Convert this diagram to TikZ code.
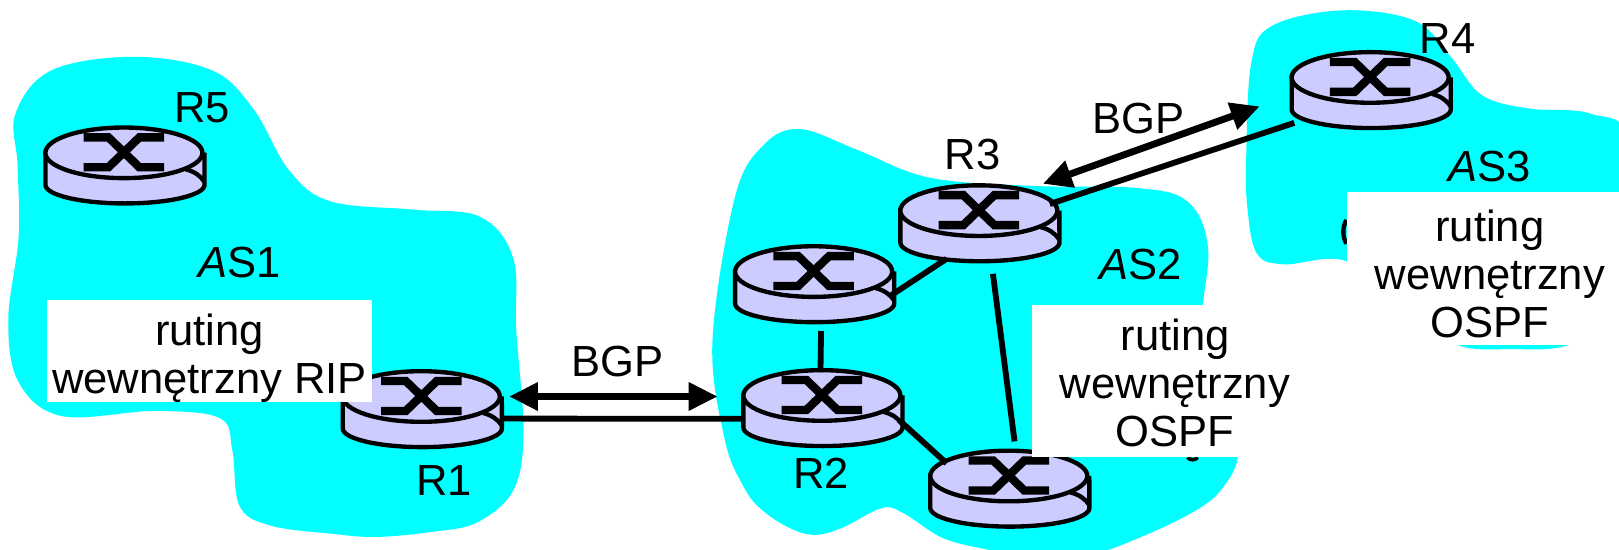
\documentclass[tikz,border=0pt]{standalone}
\usepackage{fontspec}
\setmainfont{Liberation Sans}
\usetikzlibrary{shapes.geometric,arrows.meta}
\definecolor{asblue}{HTML}{00FFFF}
\definecolor{routerblue}{HTML}{CCCCFF}
\tikzset{
  routertop/.style={ellipse,draw,fill=routerblue,line width=1.2pt,inner sep=0pt,minimum width=1.52cm,minimum height=.49cm},
  routerhull/.style={ellipse,inner sep=0pt,minimum width=1.56cm,minimum height=.74cm},
  link/.style={line width=1.6pt},
  bgplink/.style={line width=1.9pt,{Triangle[length=.28cm,width=.26cm]}-{Triangle[length=.28cm,width=.26cm]}},
  asname/.style={font=\fontsize{12}{13}\selectfont},
  notebox/.style={fill=white,inner sep=0pt},
  notetext/.style={inner sep=0pt,align=center,font=\fontsize{12}{13.2}\selectfont}
}
\begin{document}
\begin{tikzpicture}[x=0.01cm,y=-0.01cm]
\def\asone{plot[smooth cycle,tension=.6] coordinates {(15,110) (50,68) (130,55) (205,68) (245,105) (280,165) (320,195) (400,203) (465,210) (497,250) (500,320) (507,420) (497,475) (462,506) (419,515) (365,520) (322,517) (262,509) (232,490) (225,436) (213,405) (150,398) (60,403) (18,370) (8,310) (18,230) (17,160)}}
\def\astwo{plot[smooth cycle,tension=.6] coordinates {(775,125) (830,145) (900,172) (1000,180) (1100,182) (1150,195) (1170,240) (1165,320) (1192,390) (1199,440) (1186,470) (1162,492) (1110,518) (1052,538) (989,538) (955,532) (913,521) (875,497) (854,492) (816,511) (789,518) (764,511) (737,493) (720,471) (702,426) (690,330) (712,190) (740,140)}}
\def\asthree{plot[smooth cycle,tension=.6] coordinates {(1212,60) (1232,25) (1300,10) (1370,20) (1405,55) (1435,92) (1480,105) (1540,110) (1580,140) (1590,300) (1520,334) (1465,338) (1411,334) (1360,300) (1304,253) (1243,256) (1217,245) (1208,200) (1207,150)}}
\def\router#1#2{%
  \begin{scope}[shift={(#2)}]
  \filldraw[fill=routerblue,line width=1.2pt] (-76,0) -- (-76,31) arc[start angle=180,end angle=360,x radius=.77cm,y radius=.18cm] -- (78,2) -- cycle;
  \node[routertop] at (0,0) {};
  \draw[line width=1.2pt] (60,16) .. controls (68,18) and (74,22) .. (78,28);
  \draw[line width=2.3pt] (-39,-15) -- (-15,-15) -- (15,14) -- (39,14);
  \draw[line width=2.3pt] (-39,14) -- (-15,14) -- (15,-15) -- (39,-15);
  \end{scope}
  \node[routerhull] (#1) at ([yshift=-.12cm]#2) {};
}

\path[clip,use as bounding box] (0,0) rectangle (1568,532);

% autonomous systems
\fill[asblue] \asone;
\fill[asblue] \astwo;
\fill[asblue] \asthree;

\router{routerA}{120,148}
\router{routerB}{408,384}
\router{routerC}{796,383}
\router{routerD}{788,263}
\router{routerE}{948,204}
\router{routerF}{977,461}
\router{routerG}{1327,75}

% links
\draw[link] (routerB.-7) -- (routerC.188);
\draw[link] (routerE.228) -- (routerD.-8);
\draw[link,shorten <=.08cm,shorten >=-.03cm] (routerD.-79) -- (routerC.92);
\draw[link,shorten <=.12cm,shorten >=.08cm] (routerE.-72) -- (routerF.80);
\draw[link] (routerC.-9) -- (routerF.158);
\draw[link,shorten >=.18cm] (routerE.15) -- (routerG.205);

% BGP sessions
\coordinate (bgpAa) at (493,384);
\coordinate (bgpAb) at (695,384);
\coordinate (bgpBa) at (1010,178);
\coordinate (bgpBb) at (1220,103);
\draw[bgplink] (bgpAa) -- (bgpAb);
\draw[bgplink] (bgpBa) -- (bgpBb);

\draw[line width=1.2pt] (1304,213) .. controls (1300,220) and (1300,229) .. (1304,236); % router under the box
\draw[line width=1pt] (1150,443) .. controls (1153,446) and (1157,446) .. (1160,443);

\node[notebox,minimum width=3.14cm,minimum height=.99cm] (noteA) at (203,340) {};
\node[notebox,minimum width=2.76cm,minimum height=1.48cm] (noteB) at (1138,369) {};
\node[notebox,minimum width=2.76cm,minimum height=1.49cm] (noteC) at (1443,260) {};
\node[notetext] (textA) at (203,347) {ruting\\wewnętrzny RIP};
\node[notetext] (textB) at (1138,371) {ruting\\wewnętrzny\\OSPF};
\node[notetext] (textC) at (1443,265) {ruting\\wewnętrzny\\OSPF};

\node[asname] (labelA) at (196,104) {R5};
\node[asname] (labelB) at (430,465) {R1};
\node[asname] (labelC) at (795,458) {R2};
\node[asname] (labelE) at (942,150) {R3};
\node[asname] (labelG) at (1402,37) {R4};
\node[asname] (nameA) at (232,254) {{\itshape A}S1};
\node[asname] (nameB) at (1105,256) {{\itshape A}S2};
\node[asname] (nameC) at (1443,161) {{\itshape A}S3};
\node[asname] (bgpA) at (598,350) {BGP};
\node[asname] (bgpB) at (1103,115) {BGP};
\end{tikzpicture}
\end{document}
